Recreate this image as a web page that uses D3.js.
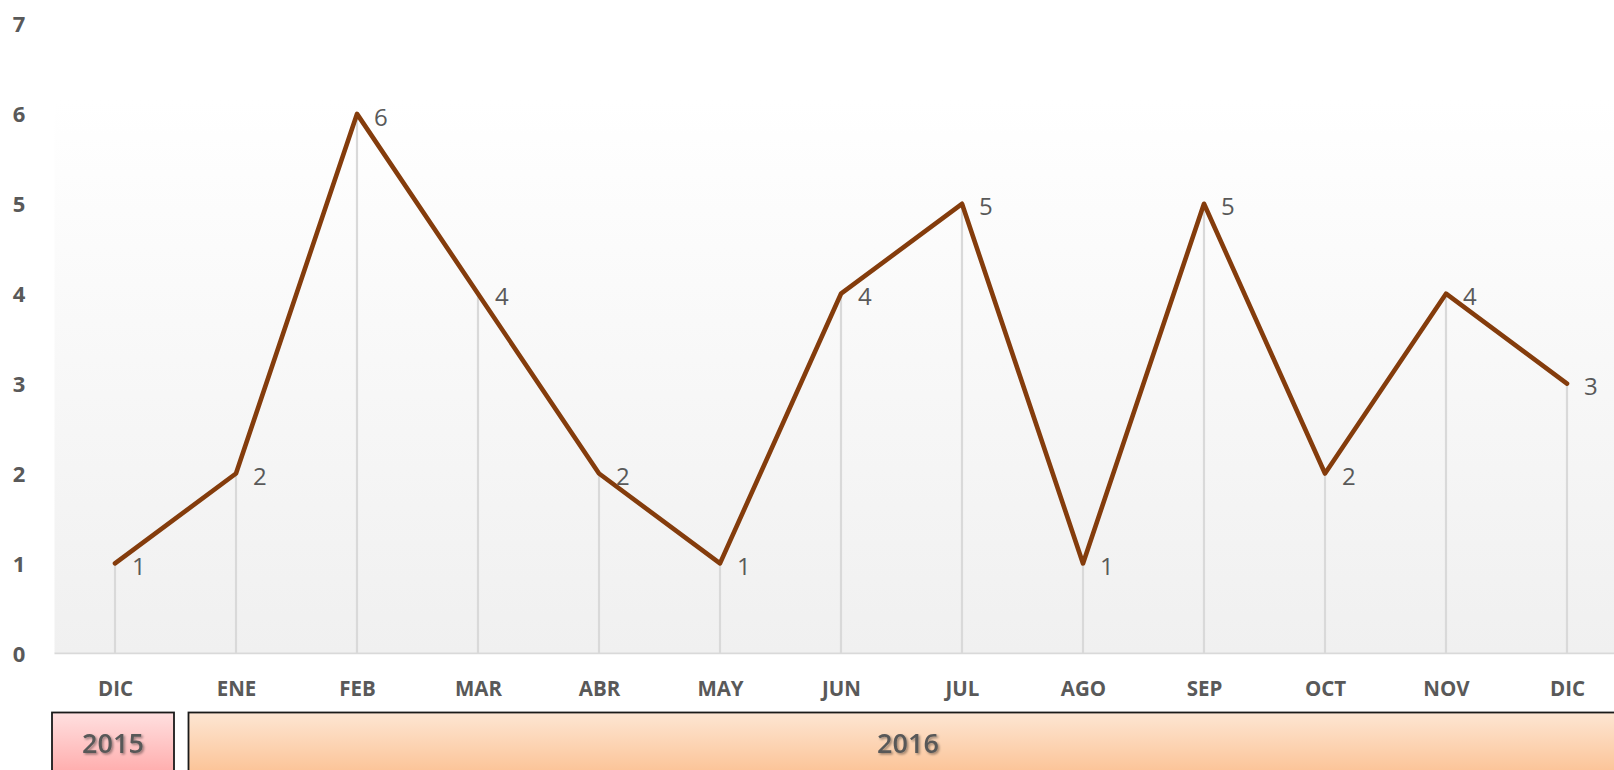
<!DOCTYPE html>
<html><head><meta charset="utf-8">
<script src="https://cdn.jsdelivr.net/npm/d3@7"></script>
<style>
html,body{margin:0;padding:0;background:#fff;overflow:hidden;}
svg{display:block;}
</style></head>
<body>
<svg id="chart" width="1614" height="770"></svg>
<script>
const months = ["DIC","ENE","FEB","MAR","ABR","MAY","JUN","JUL","AGO","SEP","OCT","NOV","DIC"];
const values = [1,2,6,4,2,1,4,5,1,5,2,4,3];
const yTicks = [0,1,2,3,4,5,6,7];
const years = ["2015","2016"];
const yearSpans = [[0,0],[1,12]];

const svg = d3.select("#chart");
const idx = values.map((d,i)=>i);

const x = d3.scalePoint().domain(idx).range([115, 1567]);
const step = x.step();
const plotL = x(0) - step/2, plotR = x(12) + step/2;
const y = d3.scaleLinear().domain([0,7]).range([653.3, 24]);

const defs = svg.append("defs");
const bg = defs.append("linearGradient").attr("id","bg").attr("x1",0).attr("y1",0).attr("x2",0).attr("y2",1);
bg.append("stop").attr("offset","0%").attr("stop-color","#ffffff");
bg.append("stop").attr("offset","12%").attr("stop-color","#ffffff");
bg.append("stop").attr("offset","100%").attr("stop-color","#f0f0f0");
const g15 = defs.append("linearGradient").attr("id","g15").attr("x1",0).attr("y1",0).attr("x2",0).attr("y2",1);
g15.append("stop").attr("offset","0%").attr("stop-color","#ffe0e0");
g15.append("stop").attr("offset","100%").attr("stop-color","#ff9c9c");
const g16 = defs.append("linearGradient").attr("id","g16").attr("x1",0).attr("y1",0).attr("x2",0).attr("y2",1);
g16.append("stop").attr("offset","0%").attr("stop-color","#fde6d3");
g16.append("stop").attr("offset","100%").attr("stop-color","#fbb883");
const sh = defs.append("filter").attr("id","sh").attr("x","-20%").attr("y","-20%").attr("width","140%").attr("height","150%");
sh.append("feDropShadow").attr("dx",1.5).attr("dy",1.5).attr("stdDeviation",1.2).attr("flood-color","#000").attr("flood-opacity",0.4);

svg.append("rect").attr("x",plotL).attr("y",y(7)).attr("width",plotR-plotL).attr("height",y(0)-y(7)).attr("fill","url(#bg)");

svg.append("g").selectAll("line").data(idx).join("line")
  .attr("x1",i=>x(i)).attr("x2",i=>x(i))
  .attr("y1",i=>y(values[i])).attr("y2",y(0))
  .attr("stroke","#d9d9d9").attr("stroke-width",2.2);

svg.append("line").attr("x1",plotL).attr("x2",plotR).attr("y1",y(0)).attr("y2",y(0))
  .attr("stroke","#d9d9d9").attr("stroke-width",1.8);

const yAxis = svg.append("g").attr("transform","translate(19,0)")
  .call(d3.axisLeft(y).tickValues(yTicks).tickFormat(d3.format("d")).tickSize(0).tickPadding(0));
yAxis.select(".domain").remove();
yAxis.selectAll("text").attr("text-anchor","middle").attr("dy","0.36em")
  .attr("font-family","Open Sans").attr("font-weight","bold").attr("font-size","22px").attr("fill","#595959");

const xAxis = svg.append("g").attr("transform",`translate(0,${y(0)})`)
  .call(d3.axisBottom(x).tickFormat(i=>months[i]).tickSize(0).tickPadding(0));
xAxis.select(".domain").remove();
xAxis.selectAll("text").attr("y",35).attr("dy","0.36em")
  .attr("font-family","Open Sans").attr("font-weight","bold").attr("font-size","20.5px").attr("fill","#595959");

const line = d3.line().x(i=>x(i)).y(i=>y(values[i]));
svg.append("path").datum(idx).attr("d",line).attr("fill","none")
  .attr("stroke","#843c0c").attr("stroke-width",4.6).attr("stroke-linejoin","round").attr("stroke-linecap","round");

svg.append("g").selectAll("text").data(idx).join("text")
  .attr("x",i=>x(i)+17).attr("y",i=>y(values[i])+3).attr("dy","0.36em")
  .attr("font-family","Open Sans").attr("font-size","24px").attr("fill","#595959")
  .text(i=>values[i]);

const yearG = svg.append("g");
yearSpans.forEach((s,k)=>{
  const x0 = k===0 ? x(s[0]) - step/2 - 2.5 : x(s[0]) - step/2 + 13;
  const x1 = k===0 ? x(s[1]) + step/2 - 1.5 : x(s[1]) + step/2;
  yearG.append("rect").attr("x",x0).attr("y",712.5).attr("width",x1-x0).attr("height",80)
    .attr("fill",k===0?"url(#g15)":"url(#g16)").attr("stroke","#1a1a1a").attr("stroke-width",1.8);
  yearG.append("text").attr("x",(x0+x1)/2).attr("y",743).attr("dy","0.36em").attr("text-anchor","middle")
    .attr("font-family","Open Sans").attr("font-weight","600").attr("font-size","27px").attr("fill","#595959").attr("filter","url(#sh)")
    .text(years[k]);
});
</script>
</body></html>
